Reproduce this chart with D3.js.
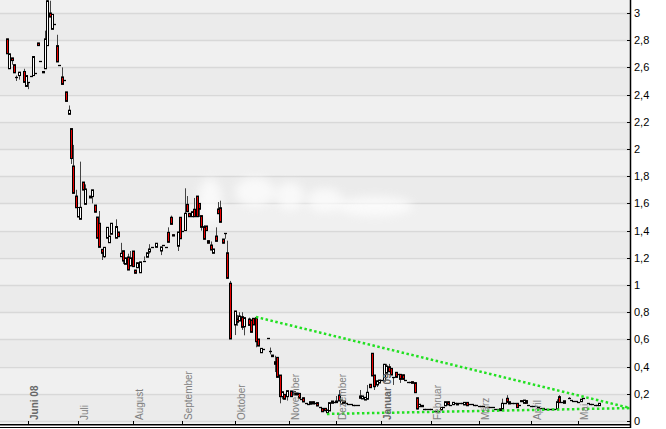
<!DOCTYPE html>
<meta charset="utf-8">
<style>
  body { margin: 0; background: #ffffff; }
  svg { display: block; }
  .ylab { font: 11px 'Liberation Sans', Arial, sans-serif; fill: #000; }
  .xlab { font: 10px 'Liberation Sans', Arial, sans-serif; fill: #808080; }
  .xlab.year { font-weight: bold; fill: #666; }
</style>
<script src="https://d3js.org/d3.v7.min.js"></script>
<body>
<div id="chart"></div>
<script>

// trading day index of each candle (0 = first candle in the picture)
var candleDay = [
  0,1,2,3,4,5,7,8,9,10,
  11,12,13,14,15,16,17,18,19,20,
  21,22,23,24,25,26,27,28,29,30,
  31,32,33,35,36,37,38,39,40,41,
  42,43,44,46,47,48,49,50,51,52,
  53,54,55,56,58,59,60,61,63,65,
  66,67,68,69,70,72,73,74,75,76,
  77,78,79,80,81,82,83,84,85,86,
  87,88,89,90,91,92,93,94,96,97,
  98,99,100,102,103,104,105,106,107,108,
  110,111,112,113,114,115,116,117,118,120,
  121,122,123,124,125,126,127,128,129,130,
  131,132,133,134,135,136,137,138,139,140,
  141,142,143,144,145,146,147,148,149,150,
  151,152,153,154,155,156,157,158,159,160,
  161,162,163,164,165,166,167,168,169,170,
  171,172,173,174,175,176,177,178,179,180,
  181,182,183,184,185,186,187,188,189,190,
  191,192,193,194,195,196,197,198,199,200,
  201,202,203,204,205,206,207,208,209,210,
  211,212,213,214,215,216,217,218,219,220,
  221,222,223,224,225,226,227,228,229,230,
  231,232,233,234,235,237,238,239,240,241,
  242,243,245,246,247,248,249,250
]

var candleOpen = [
  2.81,2.59,2.67,2.62,2.53,2.54,2.57,2.46,2.49,2.535,
  2.54,2.56,2.78,2.65,2.57,2.59,2.76,3.00,2.88,2.92,
  2.76,2.62,2.53,2.505,2.42,2.255,2.15,1.875,1.654,1.50,
  1.483,1.757,1.593,1.64,1.65,1.588,1.50,1.454,1.262,1.208,
  1.344,1.311,1.373,1.344,1.39,1.208,1.252,1.152,1.206,1.14,
  1.25,1.11,1.127,1.09,1.18,1.204,1.243,1.28,1.277,1.25,
  1.294,1.277,1.387,1.498,1.37,1.285,1.498,1.40,1.40,1.593,
  1.527,1.502,1.557,1.654,1.60,1.51,1.429,1.434,1.326,1.294,
  1.233,1.36,1.559,1.568,1.338,1.38,1.237,1.013,0.706,0.75,
  0.735,0.767,0.693,0.75,0.743,0.755,0.76,0.603,0.502,0.527,
  0.608,0.515,0.485,0.436,0.468,0.338,0.179,0.196,0.179,0.221,
  0.196,0.208,0.203,0.16,0.171,0.13,0.125,0.123,0.142,0.13,
  0.135,0.10,0.093,0.093,0.061,0.074,0.13,0.14,0.147,0.191,
  0.125,0.147,0.13,0.125,0.122,0.118,0.118,0.115,0.184,0.162,
  0.154,0.16,0.27,0.498,0.338,0.265,0.279,0.30,0.294,0.35,
  0.399,0.387,0.321,0.358,0.343,0.343,0.34,0.30,0.29,0.29,
  0.289,0.282,0.171,0.105,0.115,0.086,0.086,0.09,0.088,0.076,
  0.074,0.075,0.081,0.10,0.112,0.142,0.12,0.12,0.13,0.13,
  0.13,0.13,0.118,0.137,0.125,0.122,0.118,0.118,0.11,0.11,
  0.11,0.105,0.105,0.10,0.10,0.09,0.09,0.09,0.086,0.13,
  0.167,0.125,0.13,0.13,0.13,0.12,0.15,0.13,0.15,0.118,
  0.11,0.11,0.107,0.10,0.097,0.095,0.09,0.088,0.088,0.088,
  0.088,0.088,0.179,0.14,0.13,0.167,0.155,0.145,0.145,0.142,
  0.142,0.167,0.13,0.125,0.125,0.12,0.118,0.113
]

var candleHigh = [
  2.81,2.70,2.67,2.62,2.54,2.565,2.59,2.54,2.49,2.535,
  2.68,2.56,2.78,2.65,2.57,2.87,3.10,3.09,2.99,2.92,
  2.84,2.62,2.60,2.505,2.42,2.32,2.15,2.03,1.70,1.57,
  1.907,1.757,1.74,1.654,1.70,1.588,1.50,1.544,1.262,1.277,
  1.424,1.36,1.454,1.483,1.39,1.31,1.252,1.20,1.23,1.25,
  1.25,1.11,1.164,1.17,1.21,1.237,1.30,1.28,1.307,1.28,
  1.294,1.277,1.424,1.51,1.37,1.39,1.498,1.40,1.711,1.654,
  1.527,1.539,1.64,1.654,1.60,1.51,1.44,1.434,1.326,1.32,
  1.265,1.424,1.61,1.62,1.338,1.38,1.326,1.03,0.809,0.78,
  0.80,0.80,0.76,0.76,0.743,0.755,0.76,0.603,0.534,0.527,
  0.608,0.54,0.485,0.48,0.468,0.338,0.215,0.196,0.223,0.221,
  0.215,0.208,0.203,0.16,0.171,0.13,0.125,0.142,0.142,0.13,
  0.135,0.10,0.093,0.093,0.081,0.135,0.147,0.14,0.184,0.228,
  0.154,0.147,0.13,0.125,0.122,0.118,0.118,0.115,0.228,0.184,
  0.174,0.265,0.27,0.498,0.338,0.296,0.301,0.30,0.42,0.42,
  0.42,0.387,0.321,0.358,0.343,0.343,0.34,0.30,0.29,0.29,
  0.289,0.282,0.171,0.123,0.115,0.086,0.086,0.09,0.088,0.076,
  0.074,0.075,0.10,0.10,0.142,0.142,0.12,0.137,0.13,0.13,
  0.13,0.13,0.137,0.137,0.125,0.122,0.118,0.118,0.11,0.11,
  0.11,0.105,0.105,0.10,0.10,0.09,0.09,0.09,0.164,0.13,
  0.19,0.142,0.13,0.13,0.13,0.12,0.15,0.154,0.15,0.118,
  0.11,0.11,0.107,0.10,0.097,0.095,0.09,0.088,0.088,0.088,
  0.088,0.16,0.19,0.14,0.149,0.175,0.155,0.145,0.145,0.142,
  0.16,0.167,0.13,0.125,0.125,0.12,0.118,0.13
]

var candleLow = [
  2.70,2.59,2.62,2.56,2.50,2.51,2.49,2.46,2.44,2.535,
  2.54,2.56,2.76,2.65,2.56,2.59,2.76,2.97,2.88,2.92,
  2.64,2.62,2.475,2.505,2.35,2.255,1.89,1.674,1.568,1.50,
  1.483,1.698,1.593,1.64,1.60,1.535,1.344,1.277,1.184,1.20,
  1.344,1.311,1.373,1.344,1.355,1.208,1.154,1.152,1.11,1.14,
  1.135,1.086,1.127,1.09,1.18,1.204,1.23,1.28,1.277,1.22,
  1.294,1.277,1.314,1.446,1.36,1.25,1.34,1.40,1.40,1.539,
  1.502,1.502,1.502,1.502,1.50,1.40,1.336,1.40,1.307,1.257,
  1.233,1.321,1.524,1.461,1.307,1.34,1.049,0.603,0.632,0.70,
  0.735,0.67,0.63,0.703,0.652,0.706,0.542,0.551,0.50,0.527,
  0.608,0.49,0.473,0.36,0.321,0.13,0.16,0.16,0.15,0.179,
  0.196,0.189,0.167,0.16,0.14,0.13,0.125,0.123,0.125,0.13,
  0.11,0.10,0.068,0.075,0.055,0.074,0.13,0.14,0.135,0.147,
  0.12,0.13,0.13,0.125,0.122,0.118,0.118,0.115,0.167,0.162,
  0.154,0.16,0.245,0.331,0.228,0.25,0.279,0.30,0.294,0.35,
  0.362,0.338,0.265,0.321,0.343,0.28,0.306,0.30,0.29,0.29,
  0.277,0.208,0.085,0.105,0.105,0.086,0.086,0.09,0.088,0.076,
  0.074,0.075,0.081,0.10,0.112,0.118,0.12,0.12,0.13,0.118,
  0.13,0.13,0.118,0.112,0.125,0.122,0.118,0.118,0.11,0.11,
  0.11,0.105,0.105,0.10,0.10,0.09,0.09,0.076,0.086,0.13,
  0.137,0.125,0.13,0.13,0.098,0.12,0.142,0.13,0.13,0.118,
  0.11,0.11,0.107,0.10,0.097,0.095,0.09,0.088,0.088,0.088,
  0.088,0.088,0.135,0.14,0.13,0.167,0.155,0.145,0.145,0.142,
  0.142,0.167,0.13,0.125,0.125,0.12,0.118,0.113
]

var candleClose = [
  2.70,2.70,2.65,2.56,2.53,2.565,2.49,2.54,2.49,2.535,
  2.68,2.56,2.76,2.65,2.56,2.81,3.09,2.97,2.99,2.92,
  2.64,2.62,2.475,2.505,2.35,2.285,1.93,1.674,1.568,1.57,
  1.571,1.698,1.706,1.654,1.70,1.535,1.344,1.277,1.233,1.277,
  1.424,1.36,1.454,1.43,1.355,1.233,1.176,1.20,1.11,1.20,
  1.135,1.086,1.164,1.17,1.18,1.237,1.265,1.28,1.307,1.28,
  1.294,1.277,1.314,1.446,1.36,1.39,1.34,1.40,1.527,1.539,
  1.502,1.539,1.502,1.502,1.557,1.424,1.336,1.40,1.307,1.257,
  1.265,1.321,1.524,1.461,1.307,1.38,1.049,0.603,0.809,0.726,
  0.772,0.689,0.76,0.703,0.652,0.706,0.583,0.551,0.534,0.527,
  0.608,0.515,0.473,0.417,0.321,0.179,0.215,0.16,0.223,0.179,
  0.215,0.189,0.167,0.16,0.14,0.13,0.125,0.142,0.125,0.13,
  0.11,0.10,0.068,0.075,0.081,0.135,0.147,0.14,0.135,0.147,
  0.154,0.13,0.13,0.125,0.122,0.118,0.118,0.115,0.167,0.184,
  0.174,0.211,0.245,0.331,0.252,0.296,0.301,0.30,0.417,0.404,
  0.362,0.338,0.321,0.321,0.343,0.306,0.306,0.30,0.29,0.29,
  0.277,0.208,0.088,0.123,0.105,0.086,0.086,0.09,0.088,0.076,
  0.074,0.075,0.10,0.10,0.142,0.118,0.12,0.137,0.13,0.118,
  0.13,0.13,0.137,0.112,0.125,0.122,0.118,0.118,0.11,0.11,
  0.11,0.105,0.105,0.10,0.10,0.09,0.09,0.076,0.13,0.13,
  0.137,0.142,0.13,0.13,0.098,0.12,0.142,0.154,0.13,0.118,
  0.11,0.11,0.107,0.10,0.097,0.095,0.09,0.088,0.088,0.088,
  0.088,0.142,0.135,0.14,0.149,0.167,0.155,0.145,0.145,0.142,
  0.16,0.167,0.13,0.125,0.125,0.12,0.118,0.13
]

// month tick positions (trading day index) and labels
var monthDay = [9,30,53,74,96,119,139,158,179,199,221,241]
var monthLabel = ["Juni 08","Juli","August","September","Oktober","November","Dezember","Januar 09","Februar","März","April","Mai"]
var monthIsYear = [true,false,false,false,false,false,false,true,false,false,false,false]

// green dotted trend lines (start / end)
var upperTrendDay = [105, 263]
var upperTrendValue = [0.765, 0.095]
var lowerTrendDay = [135, 263]
var lowerTrendValue = [0.052, 0.095]

var width = 666
    height = 429
    plotRight = 630
    plotBottom = 424

var x = d3.scaleLinear().domain([0, 263]).range([7, 630.3])
var y = d3.scaleLinear().domain([0, 3]).range([421, 13])

var fmt = d3.formatLocale({decimal: ",", thousands: ".", grouping: [3], currency: ["", "€"]}).format("~g")

var svg = d3.select("#chart").append("svg")
    .attr("width", width)
    .attr("height", height)

var defs = svg.append("defs")
defs.append("clipPath").attr("id", "plotclip")
  .append("rect").attr("x", 0).attr("y", 0).attr("width", plotRight).attr("height", plotBottom)
defs.append("filter").attr("id", "blur").attr("x", "-50%").attr("y", "-50%").attr("width", "200%").attr("height", "200%")
  .append("feGaussianBlur").attr("stdDeviation", 5)

var plot = svg.append("g").attr("clip-path", "url(#plotclip)")

// alternating background bands
var bands = d3.range(-1, 16)
plot.selectAll("rect.band")
  .data(bands)
  .enter()
  .append("rect")
    .attr("class", "band")
    .attr("x", 0)
    .attr("width", plotRight)
    .attr("y", function(k){ return y((k + 1) * 0.2) })
    .attr("height", function(k){ return y(k * 0.2) - y((k + 1) * 0.2) })
    .attr("fill", function(k){ return (k % 2 === 0) ? "#ebebeb" : "#f0f0f0" })

var yTicks = y.ticks(15)

plot.selectAll("line.grid")
  .data(yTicks)
  .enter()
  .append("line")
    .attr("class", "grid")
    .attr("x1", 0).attr("x2", plotRight)
    .attr("y1", function(d){ return Math.round(y(d)) + 0.5 })
    .attr("y2", function(d){ return Math.round(y(d)) + 0.5 })
    .attr("stroke", "#d8d8d8")
    .attr("stroke-width", 1.5)

// faded watermark behind the candles
var wm = plot.append("g").attr("filter", "url(#blur)").attr("fill", "#ffffff").attr("opacity", 0.7)
wm.append("ellipse").attr("cx", 210).attr("cy", 200).attr("rx", 12).attr("ry", 22)
wm.append("ellipse").attr("cx", 255).attr("cy", 192).attr("rx", 20).attr("ry", 15)
wm.append("ellipse").attr("cx", 290).attr("cy", 196).attr("rx", 14).attr("ry", 14)
wm.append("ellipse").attr("cx", 325).attr("cy", 200).attr("rx", 18).attr("ry", 12)
wm.append("ellipse").attr("cx", 375).attr("cy", 206).attr("rx", 38).attr("ry", 10)

var candles = candleDay.map(function(d, i){
  return {day: d, o: candleOpen[i], h: candleHigh[i], l: candleLow[i], c: candleClose[i]}
})

// wicks
plot.selectAll("line.wick")
  .data(candles)
  .enter()
  .append("line")
    .attr("class", "wick")
    .attr("x1", function(d){ return Math.round(x(d.day)) + 0.5 })
    .attr("x2", function(d){ return Math.round(x(d.day)) + 0.5 })
    .attr("y1", function(d){ return y(d.h) })
    .attr("y2", function(d){ return y(d.l) })
    .attr("stroke", "#444")
    .attr("stroke-width", 1)

// bodies
var bodyData = candles.filter(function(d){ return Math.abs(y(d.o) - y(d.c)) >= 1 })
var dojiData = candles.filter(function(d){ return Math.abs(y(d.o) - y(d.c)) < 1 })

plot.selectAll("rect.body")
  .data(bodyData)
  .enter()
  .append("rect")
    .attr("class", "body")
    .attr("x", function(d){ return Math.round(x(d.day)) - 0.5 })
    .attr("width", 2)
    .attr("y", function(d){ return y(Math.max(d.o, d.c)) })
    .attr("height", function(d){ return Math.abs(y(d.o) - y(d.c)) })
    .attr("fill", function(d){ return d.c < d.o ? "#e80000" : "#ffffff" })
    .attr("stroke", "#000")
    .attr("stroke-width", 1)

plot.selectAll("line.doji")
  .data(dojiData)
  .enter()
  .append("line")
    .attr("class", "doji")
    .attr("x1", function(d){ return Math.round(x(d.day)) - 1 })
    .attr("x2", function(d){ return Math.round(x(d.day)) + 2 })
    .attr("y1", function(d){ return Math.round(y(d.c)) + 0.5 })
    .attr("y2", function(d){ return Math.round(y(d.c)) + 0.5 })
    .attr("stroke", "#000")
    .attr("stroke-width", 1.3)

// trend lines
var trendLine = d3.line()
  .x(function(d){ return x(d[0]) })
  .y(function(d){ return y(d[1]) })

plot.append("path")
  .attr("d", trendLine(d3.zip(upperTrendDay, upperTrendValue)))
  .attr("fill", "none")
  .attr("stroke", "#22e022")
  .attr("stroke-width", 2.5)
  .attr("stroke-dasharray", "2.5,2.5")

plot.append("path")
  .attr("d", trendLine(d3.zip(lowerTrendDay, lowerTrendValue)))
  .attr("fill", "none")
  .attr("stroke", "#22e022")
  .attr("stroke-width", 2.5)
  .attr("stroke-dasharray", "2.5,2.5")

// month labels and ticks at the bottom
var xaxis = svg.append("g")
xaxis.selectAll("line.xtick")
  .data(monthDay)
  .enter()
  .append("line")
    .attr("class", "xtick")
    .attr("x1", function(d){ return Math.round(x(d)) + 0.5 })
    .attr("x2", function(d){ return Math.round(x(d)) + 0.5 })
    .attr("y1", 421)
    .attr("y2", plotBottom)
    .attr("stroke", "#000")

xaxis.selectAll("text.xlab")
  .data(monthDay)
  .enter()
  .append("text")
    .attr("class", function(d, i){ return monthIsYear[i] ? "xlab year" : "xlab" })
    .attr("transform", function(d){ return "translate(" + (x(d) + 10) + ",420) rotate(-90)" })
    .text(function(d, i){ return monthLabel[i] })

xaxis.append("line")
  .attr("x1", 0).attr("x2", plotRight + 1)
  .attr("y1", 424.75).attr("y2", 424.75)
  .attr("stroke", "#000").attr("stroke-width", 1.5)
xaxis.append("line")
  .attr("x1", 0).attr("x2", plotRight + 1)
  .attr("y1", 427.5).attr("y2", 427.5)
  .attr("stroke", "#000").attr("stroke-width", 1)

// right value axis
var yaxis = svg.append("g")
yaxis.append("line")
  .attr("x1", plotRight + 0.5).attr("x2", plotRight + 0.5)
  .attr("y1", 0).attr("y2", 428)
  .attr("stroke", "#000").attr("stroke-width", 1.5)

yaxis.selectAll("line.ytick")
  .data(yTicks)
  .enter()
  .append("line")
    .attr("class", "ytick")
    .attr("x1", plotRight - 3).attr("x2", plotRight)
    .attr("y1", function(d){ return Math.round(y(d)) + 0.5 })
    .attr("y2", function(d){ return Math.round(y(d)) + 0.5 })
    .attr("stroke", "#000")

yaxis.selectAll("text.ylab")
  .data(yTicks)
  .enter()
  .append("text")
    .attr("class", "ylab")
    .attr("x", plotRight + 4)
    .attr("y", function(d){ return y(d) + 4 })
    .text(function(d){ return fmt(d) })

</script>
</body>
